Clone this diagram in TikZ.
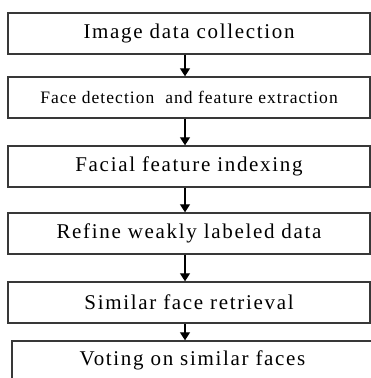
\documentclass[tikz,border=0pt]{standalone}
\usepackage{fontspec}
\setmainfont{Liberation Serif}[LetterSpace=8]
\newfontfamily\smallserif{Liberation Serif}[LetterSpace=6]
\usetikzlibrary{arrows.meta}
\tikzset{
  stepbox/.style={draw=black!78, line width=1.4pt, inner sep=0pt, minimum width=362pt, minimum height=41pt,
    font=\fontsize{21}{25}\selectfont, text=black},
  arr/.style={draw=black, line width=1.3pt, -{Triangle[length=8pt,width=10pt]}}
}
\begin{document}
\begin{tikzpicture}[x=1pt,y=1pt]
\clip (0,0) rectangle (371,-378);
\fill[white] (0,0) rectangle (371,-378);
\node[stepbox] (b1) at (189,-33.5) {Image data collection};
\node[stepbox, font=\smallserif\fontsize{17.5}{21}\selectfont] (b2) at (189,-97.5) {Face detection\ \ and feature extraction};
\node[stepbox] (b3) at (189,-166.5) {Facial feature indexing};
\node[stepbox] (b4) at (189,-233.5) {Refine weakly labeled data};
\node[stepbox] (b5) at (189,-302.5) {Similar face retrieval};
\node[stepbox, minimum width=361pt, minimum height=39pt] (b6) at (192.5,-360.5) {Voting on similar faces};
\draw[arr] ([xshift=-4pt]b1.south) -- ([xshift=-4pt]b2.north);
\draw[arr] ([xshift=-4pt]b2.south) -- ([xshift=-4pt]b3.north);
\draw[arr] ([xshift=-4pt]b3.south) -- ([xshift=-4pt]b4.north);
\draw[arr] ([xshift=-4pt]b4.south) -- ([xshift=-4pt]b5.north);
\draw[arr] ([xshift=-4pt]b5.south) -- ([xshift=-7.5pt]b6.north);
\end{tikzpicture}
\end{document}
